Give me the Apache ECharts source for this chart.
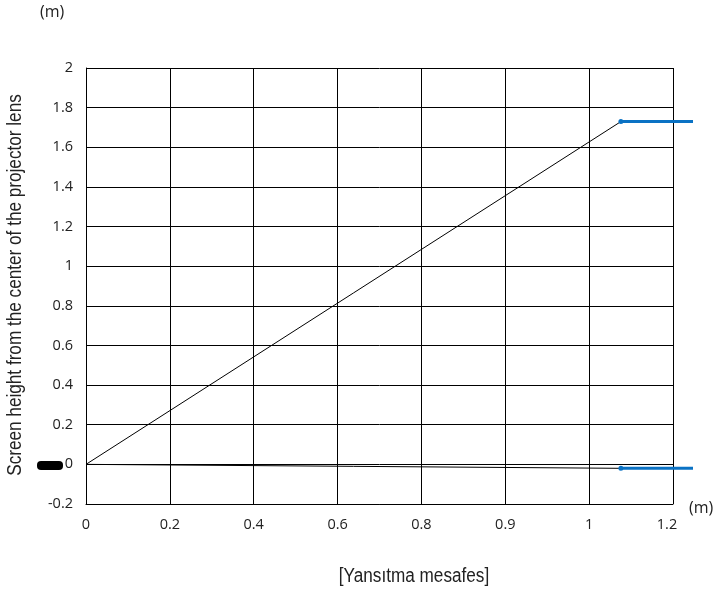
<!DOCTYPE html>
<html>
<head>
<meta charset="utf-8">
<script src="https://cdn.jsdelivr.net/npm/echarts@6/dist/echarts.min.js"></script>
<style>html,body{margin:0;padding:0;background:#fff}#c{width:714px;height:591px}</style>
</head>
<body>
<div id="c"></div>
<script>
// x tick labels (evenly spaced columns)
const xTickLabels = ['0', '0.2', '0.4', '0.6', '0.8', '0.9', '1', '1.2'];
// y range
const yMin = -0.2, yMax = 2, yStep = 0.2;
// black projection lines (x in column index units, y in m)
const upperLine = [[0, 0], [6.38, 1.73]];
const lowerLine = [[0, 0], [6.38, -0.02]];
// blue screen-edge segments (extend past the plot frame)
const upperBlue = [[6.38, 1.73], [7.24, 1.73]];
const lowerBlue = [[6.38, -0.02], [7.24, -0.02]];
const blueXMax = 7.24;

const tickFont = '"Open Sans", "Noto Sans", sans-serif';
const nameFont = '"Liberation Sans", Arial, sans-serif';

const chart = echarts.init(document.getElementById('c'), null, {renderer: 'canvas'});

function blueData(arr) {
  return arr.map((p, i) => ({value: p, symbolSize: i === 0 ? 5 : 0}));
}
const last = xTickLabels.length - 1;

chart.setOption({
  animation: false,
  grid: [
    {left: 86, top: 68, right: 41, bottom: 87, containLabel: false},
    {left: 86, top: 68, right: 21, bottom: 87, containLabel: false}
  ],
  xAxis: [{
    type: 'value', min: 0, max: last, interval: 1, gridIndex: 0,
    axisLine: {show: true, onZero: false, lineStyle: {color: '#000', width: 1}},
    axisTick: {show: false},
    splitLine: {show: true, lineStyle: {color: '#000', width: 1}},
    axisLabel: {
      formatter: v => {
        const i = Math.round(v);
        return i === last ? '{r|' + xTickLabels[i] + '}' : (xTickLabels[i] ?? '');
      },
      rich: {r: {padding: [0, 12, 0, 0], fontFamily: tickFont, fontSize: 14.5, color: '#222'}},
      color: '#222', fontFamily: tickFont, fontSize: 14.5, margin: 13
    }
  }, {
    type: 'value', min: 0, max: blueXMax, gridIndex: 1, show: false
  }],
  yAxis: [{
    type: 'value', min: yMin, max: yMax, interval: yStep, gridIndex: 0,
    axisLine: {show: true, onZero: false, lineStyle: {color: '#000', width: 1}},
    axisTick: {show: false},
    splitLine: {show: true, lineStyle: {color: '#000', width: 1}},
    axisLabel: {
      formatter: v => String(Math.round(v * 10) / 10),
      color: '#222', fontFamily: tickFont, fontSize: 14.5, margin: 13
    }
  }, {
    type: 'value', min: yMin, max: yMax, gridIndex: 1, show: false
  }],
  series: [
    {type: 'line', data: upperLine, symbol: 'none', xAxisIndex: 0, yAxisIndex: 0,
     lineStyle: {color: '#000', width: 1}},
    {type: 'line', data: lowerLine, symbol: 'none', xAxisIndex: 0, yAxisIndex: 0,
     lineStyle: {color: '#000', width: 1}},
    {type: 'line', data: blueData(upperBlue), symbol: 'circle', xAxisIndex: 1, yAxisIndex: 1,
     lineStyle: {color: '#0a72c4', width: 3}, itemStyle: {color: '#0a72c4'}},
    {type: 'line', data: blueData(lowerBlue), symbol: 'circle', xAxisIndex: 1, yAxisIndex: 1,
     lineStyle: {color: '#0a72c4', width: 3}, itemStyle: {color: '#0a72c4'}}
  ],
  graphic: [
    {type: 'text', left: 40, top: 4,
     style: {text: '(m)', font: '16px ' + tickFont, fill: '#222'}},
    {type: 'text', left: 689, top: 500,
     style: {text: '(m)', font: '16px ' + tickFont, fill: '#222'}},
    {type: 'text', x: 414, y: 577, scaleX: 0.88,
     style: {text: '[Yansıtma mesafes]', font: '19.5px ' + nameFont, fill: '#222',
             align: 'center', verticalAlign: 'middle'}},
    {type: 'text', x: 16, y: 285, rotation: Math.PI / 2, scaleX: 0.88,
     style: {text: 'Screen height from the center of the projector lens', font: '19.5px ' + nameFont,
             fill: '#222', align: 'center', verticalAlign: 'middle'}},
    {type: 'rect', shape: {x: 37, y: 461, width: 26, height: 9, r: 4},
     style: {fill: '#000'}}
  ]
});
</script>
</body>
</html>
